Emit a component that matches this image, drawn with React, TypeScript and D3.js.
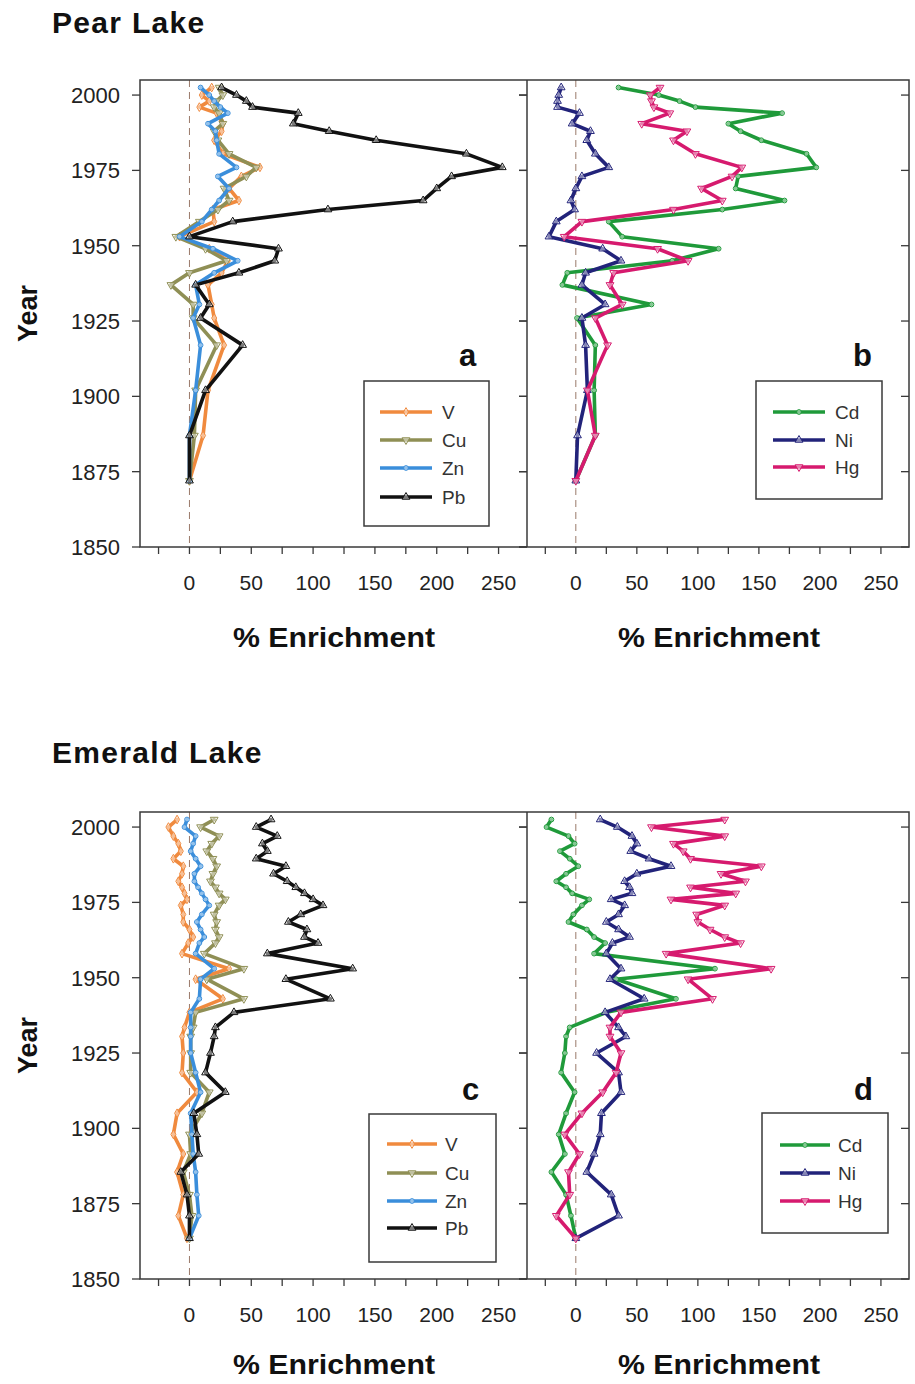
import React from 'react';
import * as d3 from 'd3';

// ---------- DATA ----------
const pearYears = [2002.5, 2000, 1998, 1996, 1994, 1990.5, 1988, 1985, 1980.5, 1976, 1973, 1969, 1965, 1962, 1958, 1953, 1949, 1945, 1941, 1937, 1930.5, 1926, 1917, 1902, 1887, 1872];
const pearV = [18, 10, 16, 8, 22, 27, 26, 20, 27, 57, 42, 32, 40, 19, 20, -8, 16, 31, 26, 15, 18, 20, 28, 15, 11, 0];
const pearCu = [24, 27, 22, 20, 24, 27, 20, 23, 32, 54, 46, 28, 32, 23, 8, -11, 13, 30, 0, -15, 3, 3, 22, 5, 4, 0];
const pearZn = [9, 16, 20, 25, 31, 15, 21, 22, 24, 38, 23, 32, 24, 18, 10, -8, 19, 39, 20, 5, 8, 3, 9, 5, 0, 0];
const pearPb = [26, 38, 46, 51, 88, 84, 113, 151, 224, 253, 212, 200, 189, 112, 35, 0, 72, 69, 40, 5, 16, 9, 43, 13, 0, 0];
const pearCd = [35, 68, 85, 98, 169, 125, 135, 152, 189, 197, 133, 131, 171, 120, 27, 38, 117, 79, -7, -11, 62, 1, 16, 15, 16, 0];
const pearNi = [-12, -14, -15, -15, 3, -3, 12, 9, 16, 27, 5, 0, -4, -1, -16, -22, 22, 37, 8, 5, 24, 5, 8, 9.5, 1.4, 0];
const pearHg = [69, 61, 62, 64, 77, 54, 91, 80, 98, 136, 128, 103, 120, 80, 5, -9.5, 67, 92, 31, 28, 38, 16, 26, 9.5, 16, 0];

const emeraldYears = [2002.5, 2000, 1997, 1994.5, 1992, 1989.5, 1987, 1984.5, 1982, 1980, 1978, 1976, 1974, 1971, 1968.5, 1966, 1963.5, 1961.5, 1958, 1953, 1949.5, 1943, 1938.5, 1933.5, 1930.5, 1925, 1918.5, 1912, 1905, 1898, 1891.5, 1885.5, 1878, 1871, 1863.5];
const emeraldV = [-10, -17, -13, -9, -7, -13, -5, -6, -9, -6, -4, -2, -7, -5, -5, 0, 3, -1, -6, 32, 5, 27, 0, -4, -6, -5, -6, 6, -10, -13, -5, -10, -5, -9, -2];
const emeraldCu = [20, 9, 24, 18, 14, 19, 22, 19, 17, 21, 24, 29, 24, 20, 22, 21, 24, 21, 12, 44, 14, 44, 5, 3, 1, 1, 1, 16, 10, 0, 1, -5, 0, 2, 0];
const emeraldZn = [-2, -4, 5, 3, 1, 5, 9, 4, 4, 7, 10, 13, 16, 10, 6, 9, 12, 8, 5, 20, 9, 8, 1, 1, 1, 1, 5, 9, 1, 2, 3, 5, 6, 7.5, 0];
const emeraldPb = [66, 54, 71, 59, 63, 54, 78, 68, 79, 86, 93, 100, 108, 90, 80, 95, 93, 104, 63, 132, 78, 114, 36, 21, 20, 17, 13, 29, 3.5, 6, 7.5, -7, -2, 0, 0];
const emeraldCd = [-20, -24, -6, -1, -13, -5, 2, -8, -16, -8, -3, 11, 5, -2, -6, 9, 15, 24, 15, 114, 33, 82, 25, -5, -8, -9, -12, -1, -8, -14, -9, -20, -8, -4, 0];
const emeraldNi = [20, 34, 46, 50, 45, 60, 78, 50, 40, 44, 46, 29, 40, 35, 25, 35, 44, 30, 25, 37, 28, 56, 24, 35, 41, 17, 35, 37, 21, 20, 15, 9, 29, 35, 0];
const emeraldHg = [122, 62, 122, 80, 88, 94, 152, 119, 139, 94, 131, 78, 122, 99, 100, 110, 122, 135, 74, 160, 92, 112, 37, 28, 28, 37, 33, 22, 5, -9, 3, -6, -5, -16, 0];

const yearTicks = [1850, 1875, 1900, 1925, 1950, 1975, 2000];
const xMinorTicks = [-25, 0, 25, 50, 75, 100, 125, 150, 175, 200, 225, 250];
const xLabelTicks = [0, 50, 100, 150, 200, 250];

// ---------- STYLE ----------
const COLORS: Record<string, string> = {
  V: '#F08A3E', Cu: '#8F8F55', Zn: '#3A8EDB', Pb: '#111111',
  Cd: '#1F9A3A', Ni: '#22237A', Hg: '#D61A6E',
};
const MARKERS: Record<string, string> = {
  V: 'diamond', Cu: 'down', Zn: 'circle', Pb: 'up', Cd: 'circle', Ni: 'up', Hg: 'down',
};
const FONT = '"Liberation Sans", Arial, Helvetica, sans-serif';
const AXIS = '#3a3a3a';

type S = { name: string; values: number[] };

function markerPath(kind: string) {
  if (kind === 'circle') return d3.symbol().type(d3.symbolCircle).size(18)()!;
  if (kind === 'diamond') return d3.symbol().type(d3.symbolDiamond).size(22)()!;
  return d3.symbol().type(d3.symbolTriangle).size(26)()!;
}

const xDomain: [number, number] = [-40, 273];

function Panel(props: {
  x0: number; x1: number; y0: number; y1: number;
  years: number[]; series: S[];
  legend: { x: number; y: number; w: number; h: number; rowY: number[]; lineX0: number; lineX1: number; textX: number };
  label: string; labelX: number; labelY: number;
}) {
  const { x0, x1, y0, y1, years, series, legend, label, labelX, labelY } = props;
  const x = d3.scaleLinear().domain(xDomain).range([x0, x1]);
  const y = d3.scaleLinear().domain([1850, 2005]).range([y1, y0]);
  const line = d3.line<[number, number]>().x(d => x(d[1])).y(d => y(d[0]));
  return (
    <g>
      <line x1={x(0)} x2={x(0)} y1={y0} y2={y1} stroke="#9a7a6a" strokeWidth={1} strokeDasharray="7,5" />
      {series.map(s => {
        const pts = years.map((yr, i) => [yr, s.values[i]] as [number, number]);
        const c = COLORS[s.name];
        const mk = MARKERS[s.name];
        const p = markerPath(mk);
        return (
          <g key={s.name}>
            <path d={line(pts)!} fill="none" stroke={c} strokeWidth={3.6} strokeLinejoin="round" strokeLinecap="round" />
            {pts.map((d, i) => (
              <path key={i} d={p} transform={`translate(${x(d[1])},${y(d[0])})${mk === 'down' ? ' rotate(180)' : ''}`}
                fill="#ffffff" fillOpacity={0.45} stroke={c} strokeWidth={1} />
            ))}
          </g>
        );
      })}
      {xMinorTicks.map(t => (
        <line key={'xt' + t} x1={x(t)} x2={x(t)} y1={y1} y2={y1 + 7} stroke={AXIS} strokeWidth={1.3} />
      ))}
      {xLabelTicks.map(t => (
        <text key={'xl' + t} x={x(t)} y={y1 + 43} textAnchor="middle" fontFamily={FONT} fontSize={21} fill="#222">{t}</text>
      ))}
      {yearTicks.map(t => (
        <line key={'yr' + t} x1={x1 - 8} x2={x1} y1={y(t)} y2={y(t)} stroke={AXIS} strokeWidth={1.3} />
      ))}
      {yearTicks.map(t => (
        <line key={'yl' + t} x1={x0 - 8} x2={x0} y1={y(t)} y2={y(t)} stroke={AXIS} strokeWidth={1.3} />
      ))}
      <text x={labelX} y={labelY} fontFamily={FONT} fontWeight="bold" fontSize={31} fill="#111">{label}</text>
      <rect x={legend.x} y={legend.y} width={legend.w} height={legend.h} fill="#fff" stroke={AXIS} strokeWidth={1.5} />
      {series.map((s, i) => {
        const c = COLORS[s.name];
        const mk = MARKERS[s.name];
        const ry = legend.rowY[i];
        const mx = (legend.lineX0 + legend.lineX1) / 2;
        return (
          <g key={'lg' + s.name}>
            <line x1={legend.lineX0} x2={legend.lineX1} y1={ry} y2={ry} stroke={c} strokeWidth={3.6} />
            <path d={markerPath(mk)} transform={`translate(${mx},${ry})${mk === 'down' ? ' rotate(180)' : ''}`}
              fill="#fff" fillOpacity={0.45} stroke={c} strokeWidth={1} />
            <text x={legend.textX} y={ry + 7} fontFamily={FONT} fontSize={19} fill="#333">{s.name}</text>
          </g>
        );
      })}
    </g>
  );
}

function Lake(props: {
  title: string; titleY: number; y0: number; y1: number; years: number[];
  left: S[]; right: S[]; axisTitleDy: number;
  legA: any; legB: any; labA: string; labB: string; labAxy: [number, number]; labBxy: [number, number];
}) {
  const { title, titleY, y0, y1, years, left, right, axisTitleDy, legA, legB, labA, labB, labAxy, labBxy } = props;
  const xL0 = 140, xM = 527, xR1 = 909;
  const y = d3.scaleLinear().domain([1850, 2005]).range([y1, y0]);
  const midY = (y0 + y1) / 2;
  return (
    <g>
      <text x={52} y={titleY} fontFamily={FONT} fontWeight="bold" fontSize={30} letterSpacing={1.3} fill="#111">{title}</text>
      <Panel x0={xL0} x1={xM} y0={y0} y1={y1} years={years} series={left} legend={legA} label={labA} labelX={labAxy[0]} labelY={labAxy[1]} />
      <Panel x0={xM} x1={xR1} y0={y0} y1={y1} years={years} series={right} legend={legB} label={labB} labelX={labBxy[0]} labelY={labBxy[1]} />
      <rect x={xL0} y={y0} width={xR1 - xL0} height={y1 - y0} fill="none" stroke={AXIS} strokeWidth={1.5} />
      <line x1={xM} x2={xM} y1={y0} y2={y1} stroke={AXIS} strokeWidth={1.5} />
      {yearTicks.map(t => (
        <text key={t} x={120} y={y(t) + 8} textAnchor="end" fontFamily={FONT} fontSize={22} fill="#222">{t}</text>
      ))}
      <text transform={`translate(37,${midY}) rotate(-90)`} textAnchor="middle" fontFamily={FONT} fontWeight="bold" fontSize={27} fill="#111">Year</text>
      <text x={334} y={y1 + axisTitleDy} textAnchor="middle" fontFamily={FONT} fontWeight="bold" fontSize={27} textLength={202} lengthAdjust="spacingAndGlyphs" fill="#111">% Enrichment</text>
      <text x={719} y={y1 + axisTitleDy} textAnchor="middle" fontFamily={FONT} fontWeight="bold" fontSize={27} textLength={202} lengthAdjust="spacingAndGlyphs" fill="#111">% Enrichment</text>
    </g>
  );
}

export default function App() {
  return (
    <svg width={915} height={1384} viewBox="0 0 915 1384"
      style={{ position: 'absolute', left: 0, top: 0, display: 'block', background: '#fff' }}>
      <rect x={0} y={0} width={915} height={1384} fill="#fff" />
      <Lake title="Pear Lake" titleY={33} y0={80} y1={547} years={pearYears} axisTitleDy={100}
        left={[{ name: 'V', values: pearV }, { name: 'Cu', values: pearCu }, { name: 'Zn', values: pearZn }, { name: 'Pb', values: pearPb }]}
        right={[{ name: 'Cd', values: pearCd }, { name: 'Ni', values: pearNi }, { name: 'Hg', values: pearHg }]}
        legA={{ x: 364, y: 381, w: 125, h: 145, rowY: [412, 440, 468, 497], lineX0: 380, lineX1: 432, textX: 442 }}
        legB={{ x: 756, y: 381, w: 126, h: 118, rowY: [412, 440, 467], lineX0: 773, lineX1: 825, textX: 835 }}
        labA="a" labB="b" labAxy={[459, 366]} labBxy={[853, 366]} />
      <Lake title="Emerald Lake" titleY={763} y0={812} y1={1279} years={emeraldYears} axisTitleDy={95}
        left={[{ name: 'V', values: emeraldV }, { name: 'Cu', values: emeraldCu }, { name: 'Zn', values: emeraldZn }, { name: 'Pb', values: emeraldPb }]}
        right={[{ name: 'Cd', values: emeraldCd }, { name: 'Ni', values: emeraldNi }, { name: 'Hg', values: emeraldHg }]}
        legA={{ x: 369, y: 1114, w: 127, h: 148, rowY: [1144, 1173, 1201, 1228], lineX0: 387, lineX1: 437, textX: 445 }}
        legB={{ x: 762, y: 1113, w: 126, h: 120, rowY: [1145, 1173, 1201], lineX0: 780, lineX1: 830, textX: 838 }}
        labA="c" labB="d" labAxy={[462, 1100]} labBxy={[854, 1100]} />
    </svg>
  );
}
